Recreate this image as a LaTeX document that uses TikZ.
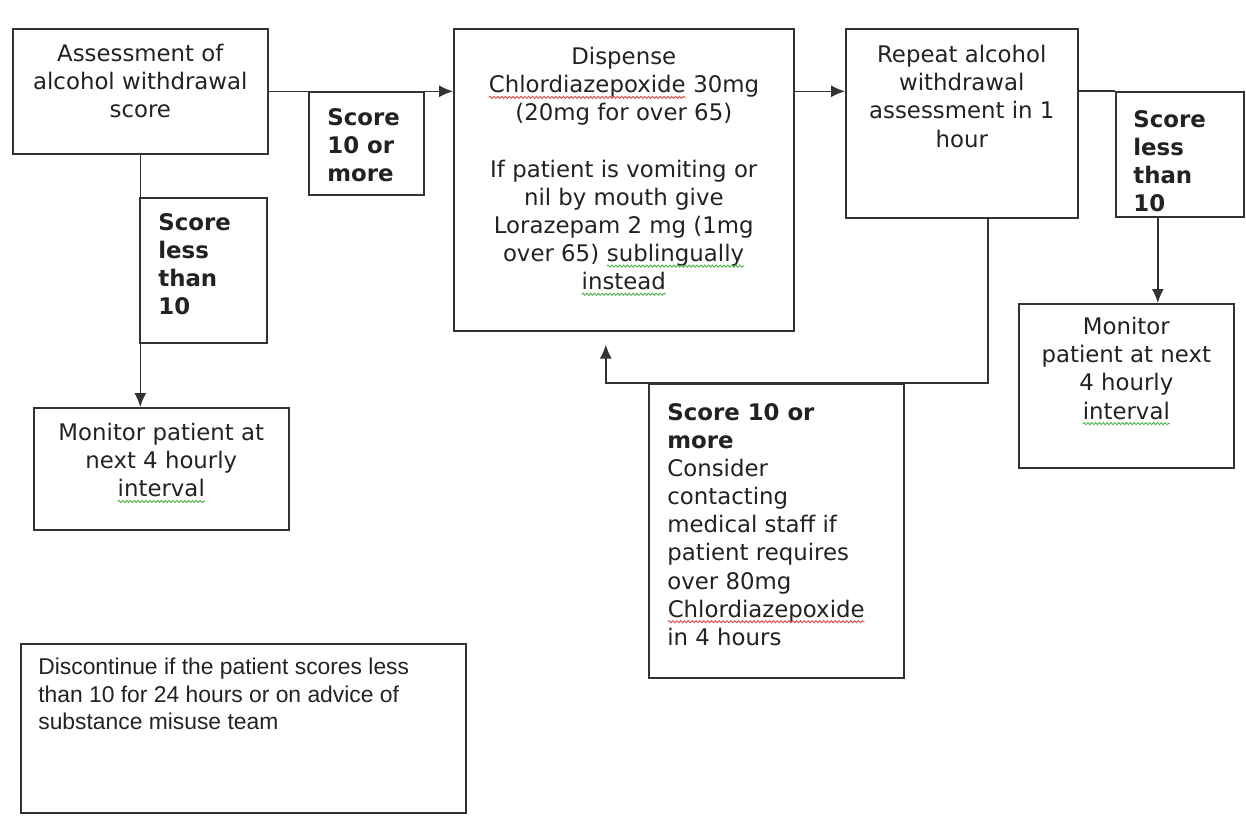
\documentclass[tikz,border=0pt]{standalone}
\usepackage{fontspec}
\setmainfont{DejaVu Sans}
\newfontfamily\arialfont{Liberation Sans}
\usetikzlibrary{
arrows.meta,
decorations.pathmorphing,
positioning
}
\tikzset{>={Latex[length=2.8mm,width=2.4mm]}}
\definecolor{linegray}{HTML}{333333}
\definecolor{textgray}{HTML}{222222}
\definecolor{sqred}{HTML}{E04848}
\definecolor{sqgreen}{HTML}{48B048}
\newcommand{\wavy}[2]{\tikz[baseline=(w.base)]{\node[inner sep=0pt,outer sep=0pt] (w) {#2}; \draw[#1,line width=0.5pt,decorate,decoration={snake,amplitude=0.6pt,segment length=2.2pt}] ([yshift=-2.6pt]w.base west) -- ([yshift=-2.6pt]w.base east);}}

\begin{document}
\begin{tikzpicture}[scale=1.0, every node/.style={scale=1.0}, font=\fontsize{13}{16}\selectfont]
		\tikzset{box/.style={draw=linegray,line width=0.9pt,anchor=north west,inner sep=0pt},
		txt/.style={inner sep=0pt,align=center,text=textgray},
		ltxt/.style={inner sep=0pt,align=left,text=textgray},
		link/.style={draw=linegray,line width=0.85pt}}
		
		\useasboundingbox (0,0) rectangle (24.92,-16.56);
		
		\node[box,minimum width=5.10cm,minimum height=2.50cm] (assess) at (0.24,-0.56) {};
		\node[box,minimum width=2.30cm,minimum height=2.06cm] (tenA) at (6.16,-1.82) {};
		\node[box,minimum width=6.80cm,minimum height=6.04cm] (dispense) at (9.06,-0.56) {};
		\node[box,minimum width=4.64cm,minimum height=3.78cm] (repeat) at (16.90,-0.56) {};
		\node[box,minimum width=2.56cm,minimum height=2.50cm] (lessB) at (22.30,-1.82) {};
		\node[box,minimum width=4.30cm,minimum height=3.28cm] (monR) at (20.36,-6.06) {};
		\node[box,minimum width=2.54cm,minimum height=2.90cm] (lessA) at (2.78,-3.94) {};
		\node[box,minimum width=5.10cm,minimum height=2.44cm] (monL) at (0.66,-8.14) {};
		\node[box,minimum width=5.10cm,minimum height=5.88cm] (tenB) at (12.96,-7.66) {};
		\node[box,minimum width=8.90cm,minimum height=3.38cm] (stop) at (0.40,-12.86) {};
		
		\node[txt,below=0.32cm of assess.north] {Assessment of\\alcohol withdrawal\\score};
		\node[txt,below=0.38cm of dispense.north] {Dispense\\\wavy{sqred}{Chlordiazepoxide} 30mg\\(20mg for over 65)\\[16pt]If patient is vomiting or\\nil by mouth give\\Lorazepam 2 mg (1mg\\over 65) \wavy{sqgreen}{sublingually}\\\wavy{sqgreen}{instead}};
		\node[txt,below=0.34cm of repeat.north] {Repeat alcohol\\withdrawal\\assessment in 1\\hour};
		\node[txt,below=0.28cm of monR.north] {Monitor\\patient at next\\4 hourly\\\wavy{sqgreen}{interval}};
		\node[txt,below=0.32cm of monL.north] {Monitor patient at\\next 4 hourly\\\wavy{sqgreen}{interval}};
		
		\node[ltxt,font=\bfseries\fontsize{13}{16}\selectfont,below right=0.34cm and 0.38cm of tenA.north west] {Score\\10 or\\more};
		\node[ltxt,font=\bfseries\fontsize{13}{16}\selectfont,below right=0.38cm and 0.36cm of lessB.north west] {Score\\less\\than\\10};
		\node[ltxt,font=\bfseries\fontsize{13}{16}\selectfont,below right=0.32cm and 0.38cm of lessA.north west] {Score\\less\\than\\10};
		\node[ltxt,below right=0.40cm and 0.38cm of tenB.north west] {\textbf{Score 10 or}\\\textbf{more}\\Consider\\contacting\\medical staff if\\patient requires\\over 80mg\\\wavy{sqred}{Chlordiazepoxide}\\in 4 hours};
		\node[ltxt,font=\arialfont\fontsize{13}{15.6}\selectfont,below right=0.30cm and 0.36cm of stop.north west] {Discontinue if the patient scores less\\than 10 for 24 hours or on advice of\\substance misuse team};
		
		\draw[link,->] (assess.east) -- (assess.east -| dispense.west);
		\draw[link,->] (assess.east -| dispense.east) -- (assess.east -| repeat.west);
		\draw[link] (lessB.north west -| repeat.east) -- (lessB.north west);
		\draw[link,->] ([xshift=-0.44cm]lessB.south) -- ([xshift=-0.44cm]lessB.south |- monR.north);
		\draw[link,->] (assess.south) -- (assess.south |- monL.north);
		\draw[link,->,shorten >=0.26cm] ([xshift=0.52cm]repeat.south) |- ([xshift=-0.36cm]dispense.south |- tenB.north) -- ([xshift=-0.36cm]dispense.south);
	\end{tikzpicture}
\end{document}
